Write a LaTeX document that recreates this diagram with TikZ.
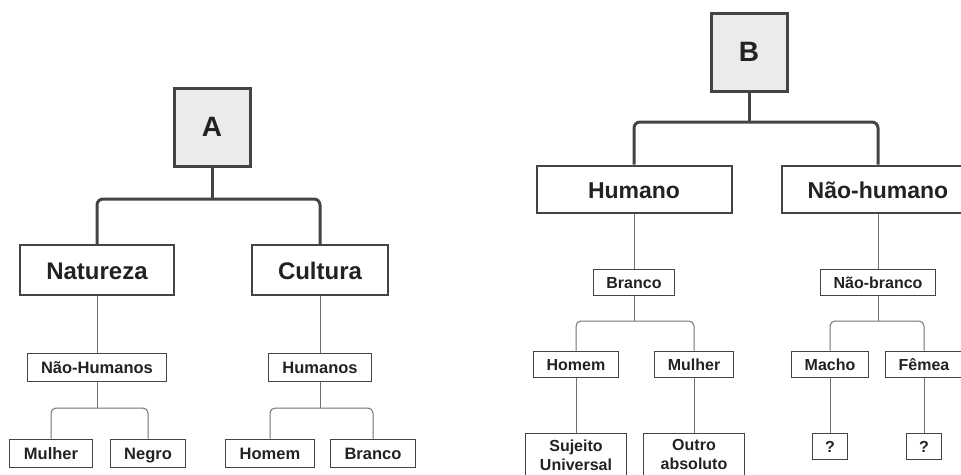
\documentclass[tikz,border=0pt]{standalone}
\usepackage{fontspec}
\setmainfont{Liberation Sans}
\usetikzlibrary{positioning}

\definecolor{boxgray}{HTML}{444444}
\definecolor{linegray}{HTML}{444444}
\definecolor{thingray}{HTML}{707070}
\definecolor{rootfill}{HTML}{EBEBEB}
\definecolor{txt}{HTML}{222222}

\tikzset{
	rootbox/.style={draw=boxgray, line width=3pt, fill=rootfill, text=txt, minimum width=76pt, minimum height=78pt, font=\fontsize{28}{32}\selectfont\bfseries},
	bigbox/.style={draw=boxgray, line width=2pt, text=txt, inner xsep=26pt, text height=19pt, text depth=0pt, minimum height=50pt, font=\fontsize{24}{28}\selectfont\bfseries},
	smallbox/.style={draw=boxgray, line width=1pt, text=txt, inner xsep=14pt, text height=12pt, text depth=0pt, minimum height=28pt, font=\fontsize{16.5}{19}\selectfont\bfseries},
	smallboxB/.style={smallbox, inner xsep=13pt, minimum height=26pt, font=\fontsize{16}{19}\selectfont\bfseries},
	thickline/.style={draw=linegray, line width=3pt, rounded corners=6pt},
	thinline/.style={draw=thingray, line width=1pt, rounded corners=5pt}
}

\begin{document}
\begin{tikzpicture}[x=1pt, y=-1pt]
	\useasboundingbox (0,0) rectangle (961,474);
	
	% tree A
	\node [rootbox] at (212,127) (rootA) {A};
	\node [bigbox] at (97,270) (natA) {Natureza};
	\node [bigbox] at (320,270) (culA) {Cultura};
	\node [smallbox, below=57pt of natA] (naohumA) {Não-Humanos};
	\node [smallbox, below=57pt of culA] (humA) {Humanos};
	\node [smallbox] at (51,453) (mulA) {Mulher};
	\node [smallbox] at (148,453) (negA) {Negro};
	\node [smallbox] at (270,453) (homA) {Homem};
	\node [smallbox] at (373,453) (braA) {Branco};
	
	\coordinate (jA) at (212,199);
	\coordinate (jnhA) at (97,408);
	\coordinate (jhA) at (320,408);
	
	\draw [thickline] (rootA.south) -- (jA);
	\draw [thickline] (natA.north) |- (jA) -| (culA.north);
	\draw [thinline] (natA.south) -- (naohumA.north);
	\draw [thinline] (culA.south) -- (humA.north);
	\draw [thinline] (naohumA.south) -- (jnhA);
	\draw [thinline] (mulA.north) |- (jnhA) -| (negA.north);
	\draw [thinline] (humA.south) -- (jhA);
	\draw [thinline] (homA.north) |- (jhA) -| (braA.north);
	
	% tree B
	\node [rootbox] at (749,52) (rootB) {B};
	\node [bigbox, minimum width=195pt, minimum height=47pt, font=\fontsize{23}{27}\selectfont\bfseries] at (634,189) (humB) {Humano};
	\node [bigbox, minimum height=47pt, font=\fontsize{23}{27}\selectfont\bfseries] at (878,189) (naohumB) {Não-humano};
	\node [smallboxB] at (634,282) (braB) {Branco};
	\node [smallboxB] at (878,282) (naobraB) {Não-branco};
	\node [smallboxB] at (576,364) (homB) {Homem};
	\node [smallboxB] at (694,364) (mulB) {Mulher};
	\node [smallboxB] at (830,364) (macB) {Macho};
	\node [smallboxB] at (924,364) (femB) {Fêmea};
	\node [smallboxB, anchor=north, align=center, text height={}, text depth={}, minimum width=101pt, inner ysep=6pt] at (576,433) (sujB) {Sujeito\\Universal};
	\node [smallboxB, anchor=north, align=center, text height={}, text depth={}, minimum width=101pt, inner ysep=6pt] at (694,433) (outB) {Outro\\absoluto};
	\node [smallboxB] at (830,446) (q1B) {?};
	\node [smallboxB] at (924,446) (q2B) {?};
	
	\coordinate (jB) at (749,122);
	\coordinate (jbrB) at (634,321);
	\coordinate (jnbB) at (878,321);
	
	\draw [thickline] (rootB.south) -- (jB);
	\draw [thickline] (humB.north) |- (jB) -| (naohumB.north);
	\draw [thinline] (humB.south) -- (braB.north);
	\draw [thinline] (naohumB.south) -- (naobraB.north);
	\draw [thinline] (braB.south) -- (jbrB);
	\draw [thinline] (homB.north) |- (jbrB) -| (mulB.north);
	\draw [thinline] (naobraB.south) -- (jnbB);
	\draw [thinline] (macB.north) |- (jnbB) -| (femB.north);
	\draw [thinline] (homB.south) -- (sujB.north);
	\draw [thinline] (mulB.south) -- (outB.north);
	\draw [thinline] (macB.south) -- (q1B.north);
	\draw [thinline] (femB.south) -- (q2B.north);
	
\end{tikzpicture}
\end{document}
